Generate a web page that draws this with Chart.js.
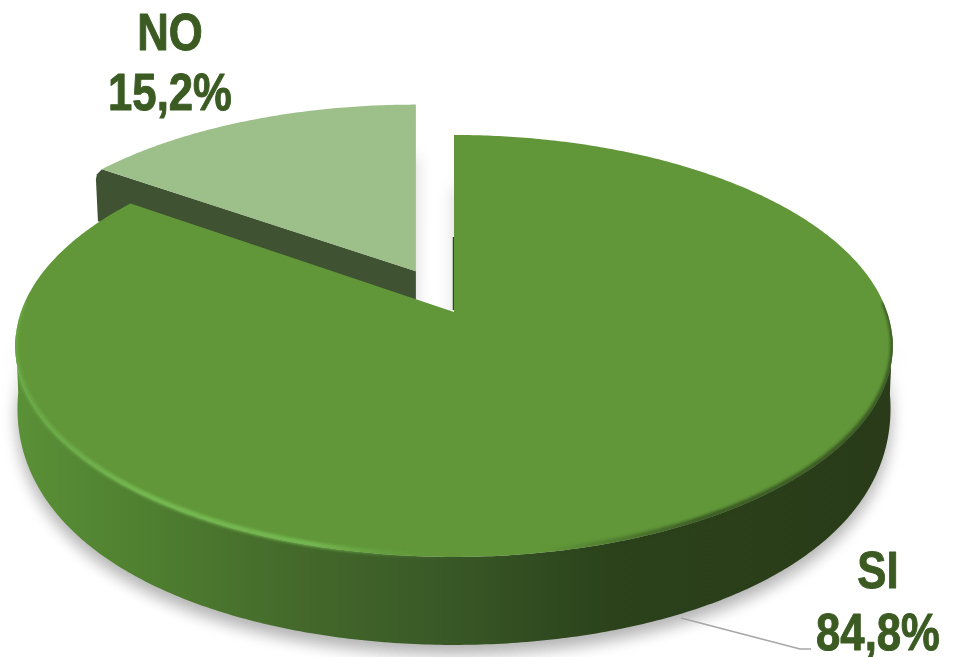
<!DOCTYPE html>
<html>
<head>
<meta charset="utf-8">
<style>
  html, body { margin: 0; padding: 0; background: #fff; }
  canvas { display: block; }
</style>
<script src="https://cdn.jsdelivr.net/npm/chart.js@4"></script>
</head>
<body>
<canvas id="pie3d" width="953" height="657"></canvas>
<script>
const labels = ['SI', 'NO'];
const values = [84.8, 15.2];
const sliceColors = ['#619739', '#9dc08b'];
const explode = [0, 68];

// perspective of the pie plane: screen centre, radii, foreshortening
const view = { cx: 454, cy: 312, rx: 433, ry: 205.5, k: 0.161 };

// wall height grows towards the viewer
function depth(w) {
  return w > 0 ? 88 - 36 * (1 - w) * (1 - w) : 52 + 8 * w;
}

// u, w: position on the unit circle, ou, ow: how far the slice is pulled out
function project(u, w, ou, ow) {
  const tw = w + ow;
  const d = 1 - view.k * tw;
  return { x: view.cx + view.rx * (u / d + ou * 0.83), y: view.cy + view.ry * tw / d, w: tw };
}

// turn an arc element of the chart into sampled outline points
function outline(el) {
  const p = el.getProps(['startAngle', 'endAngle', 'outerRadius']);
  const r = p.outerRadius;
  const mid = (p.startAngle + p.endAngle) / 2;
  const ou = el.options.offset / r * Math.cos(mid);
  const ow = el.options.offset / r * Math.sin(mid);
  const pts = [];
  const n = Math.ceil((p.endAngle - p.startAngle) / 0.01);
  for (let i = 0; i <= n; i++) {
    const a = p.startAngle + (p.endAngle - p.startAngle) * i / n;
    const t = project(Math.cos(a), Math.sin(a), ou, ow);
    t.low = t.y + depth(t.w);
    t.lx = view.cx + (t.x - view.cx) * 0.995;
    pts.push(t);
  }
  const tip = project(0, 0, ou, ow);
  return { pts: pts, tip: tip, tipLow: { x: tip.x, y: tip.y + depth(tip.w) } };
}

function addPoints(ctx, list) {
  list.forEach((q, i) => (i ? ctx.lineTo(q.x, q.y) : ctx.moveTo(q.x, q.y)));
  ctx.closePath();
}

function tracePoints(ctx, list) {
  ctx.beginPath();
  addPoints(ctx, list);
}

function topShape(o) {
  return [o.tip].concat(o.pts);
}

function lowShape(o) {
  return [o.tipLow].concat(o.pts.map(q => ({ x: q.lx, y: q.low })));
}

function frontStrip(o) {
  const front = o.pts.filter(q => q.w > 0.1);
  return front.concat(front.slice().reverse().map(q => ({ x: q.lx, y: q.low })));
}

const pie3d = {
  id: 'pie3d',
  beforeDatasetsDraw(chart) {
    const ctx = chart.ctx;
    const arcs = chart.getDatasetMeta(0).data;
    const si = outline(arcs[0]);
    const no = outline(arcs[1]);

    // soft shadow on the white page
    ctx.save();
    ctx.filter = 'blur(8px)';
    ctx.fillStyle = 'rgba(0,0,0,0.17)';
    ctx.translate(0, 9);
    tracePoints(ctx, lowShape(no));
    ctx.fill();
    tracePoints(ctx, lowShape(si));
    ctx.fill();
    tracePoints(ctx, frontStrip(si));
    ctx.fill();
    ctx.restore();

    // NO slice: dark cut wall then its face
    const corner = no.pts[0];
    ctx.fillStyle = '#3f5232';
    tracePoints(ctx, [no.tip, no.tipLow, { x: corner.x - 4, y: corner.y + 52 }, { x: corner.x - 6, y: corner.y + 10 }, { x: corner.x - 5, y: corner.y + 5 }, corner]);
    ctx.fill();
    ctx.fillStyle = sliceColors[1];
    tracePoints(ctx, topShape(no));
    ctx.fill();

    // SI slice: wall with a left to right shade
    const wall = ctx.createLinearGradient(18, 0, 893, 0);
    wall.addColorStop(0, '#5a9037');
    wall.addColorStop(0.14, '#4f8030');
    wall.addColorStop(0.32, '#44692b');
    wall.addColorStop(0.5, '#385726');
    wall.addColorStop(0.68, '#2b421b');
    wall.addColorStop(1, '#293b19');
    ctx.fillStyle = wall;
    tracePoints(ctx, frontStrip(si));
    ctx.fill();

    // thin cut edge beside the gap
    ctx.strokeStyle = '#2f4520';
    ctx.lineWidth = 1.5;
    ctx.beginPath();
    ctx.moveTo(si.tip.x - 0.5, si.tip.y - 2);
    ctx.lineTo(si.tip.x - 0.5, si.tip.y - 75);
    ctx.stroke();

    ctx.fillStyle = sliceColors[0];
    tracePoints(ctx, topShape(si));
    ctx.fill();

    // bevel along the rim, light on the left and dark on the right, kept inside the pie
    const rim = ctx.createLinearGradient(16, 0, 893, 0);
    rim.addColorStop(0, 'rgba(112,178,76,0.6)');
    rim.addColorStop(0.15, 'rgba(118,186,82,1)');
    rim.addColorStop(0.34, 'rgba(118,186,82,0.95)');
    rim.addColorStop(0.5, 'rgba(97,151,57,0)');
    rim.addColorStop(0.6, 'rgba(42,63,26,0)');
    rim.addColorStop(0.78, 'rgba(42,63,26,0.7)');
    rim.addColorStop(1, 'rgba(42,63,26,0.7)');
    ctx.save();
    ctx.beginPath();
    addPoints(ctx, topShape(si));
    addPoints(ctx, frontStrip(si));
    ctx.clip();
    ctx.filter = 'blur(1.5px)';
    ctx.strokeStyle = rim;
    ctx.lineWidth = 5;
    ctx.beginPath();
    si.pts.filter(q => q.w > -0.05).forEach((q, i) => (i ? ctx.lineTo(q.x, q.y - 1.5) : ctx.moveTo(q.x, q.y - 1.5)));
    ctx.stroke();
    ctx.restore();

    return false;
  },
  // datasets hook is cancelled above, so the labels go in afterDraw
  afterDraw(chart) {
    const ctx = chart.ctx;
    // leader line of the SI label
    ctx.strokeStyle = '#a6a6a6';
    ctx.lineWidth = 1.6;
    ctx.beginPath();
    ctx.moveTo(681, 618);
    ctx.lineTo(800, 649);
    ctx.lineTo(811, 649);
    ctx.stroke();

    const spots = [{ x: 878, y1: 588, y2: 650 }, { x: 170, y1: 50, y2: 110 }];
    ctx.fillStyle = '#3b5b23';
    ctx.strokeStyle = '#3b5b23';
    ctx.lineWidth = 1;
    ctx.lineJoin = 'round';
    ctx.textAlign = 'center';
    ctx.textBaseline = 'alphabetic';
    ctx.font = 'bold 52px "Liberation Sans"';
    labels.forEach((name, i) => {
      const pct = values[i].toFixed(1).replace('.', ',') + '%';
      ctx.save();
      ctx.translate(spots[i].x, 0);
      ctx.scale(0.84, 1);
      ctx.fillText(name, 0, spots[i].y1);
      ctx.strokeText(name, 0, spots[i].y1);
      ctx.fillText(pct, 0, spots[i].y2);
      ctx.strokeText(pct, 0, spots[i].y2);
      ctx.restore();
    });
  }
};

new Chart(document.getElementById('pie3d'), {
  type: 'pie',
  data: {
    labels: labels,
    datasets: [{
      data: values,
      backgroundColor: sliceColors,
      offset: explode,
      borderWidth: 0
    }]
  },
  options: {
    responsive: false,
    animation: false,
    layout: { padding: 0 },
    plugins: { legend: { display: false }, tooltip: { enabled: false } }
  },
  plugins: [pie3d]
});
</script>
</body>
</html>
